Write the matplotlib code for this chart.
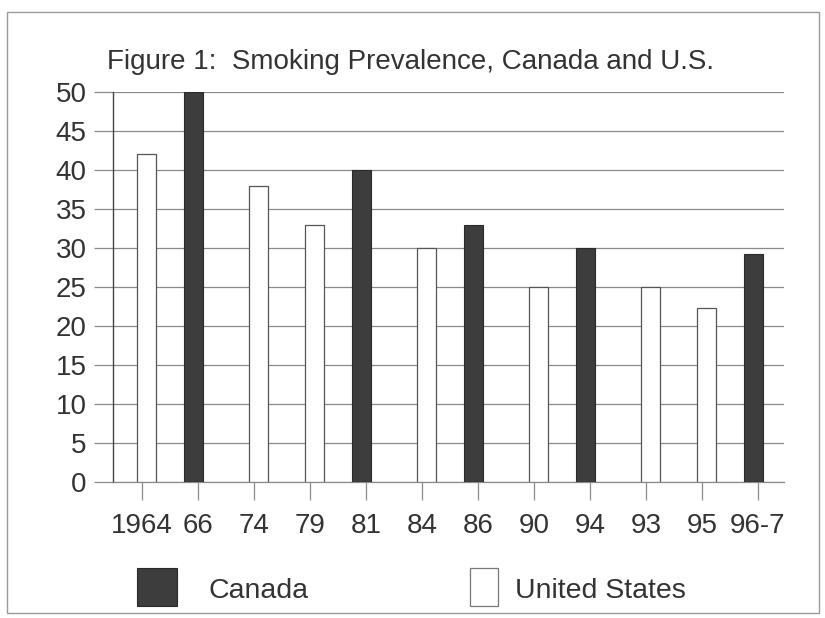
import matplotlib
matplotlib.use("Agg")
import matplotlib.pyplot as plt
from matplotlib.patches import Rectangle
import numpy as np

plt.rcParams['font.family'] = ['Liberation Sans', 'DejaVu Sans']

# Survey years (category labels) and prevalence (%) by country
years = ["1964", "66", "74", "79", "81", "84", "86", "90", "94", "93", "95", "96-7"]
canada = [None, 50, None, None, 40, None, 33, None, 30, None, None, 29.3]
united_states = [42, None, 38, 33, None, 30, None, 25, None, 25, 22.3, None]
y_ticks = [0, 5, 10, 15, 20, 25, 30, 35, 40, 45, 50]

TEXT = "#333333"
DARK = "#3d3d3d"
GRID = "#8a8a8a"

fig = plt.figure(figsize=(8.25, 6.18), dpi=100)
fig.patch.set_facecolor("white")

# outer frame around the whole figure
fig.patches.append(Rectangle((0.009, 0.008), 0.984, 0.973, transform=fig.transFigure,
                             fill=False, edgecolor="#9a9a9a", linewidth=1.0))

ax = fig.add_axes([0.137, 0.220, 0.813, 0.631])
x = np.arange(len(years))
width = 0.34
shift = 0.075

for i, v in enumerate(canada):
    if v is not None:
        ax.bar(x[i] - shift, v, width=width, color=DARK, edgecolor="#2a2a2a",
               linewidth=0.8, zorder=3)
for i, v in enumerate(united_states):
    if v is not None:
        ax.bar(x[i] + shift, v, width=width, color="white", edgecolor="#555555",
               linewidth=0.9, zorder=3)

ax.set_xlim(-0.52, 11.46)
ax.set_ylim(0, 50)
ax.set_yticks(y_ticks)
ax.set_yticklabels([str(t) for t in y_ticks], fontsize=20, color=TEXT)
ax.set_xticks(x)
ax.set_xticklabels(years, fontsize=20, color=TEXT)

ax.yaxis.grid(True, color=GRID, linewidth=0.9, zorder=0)
ax.set_axisbelow(True)
ax.tick_params(axis="y", length=14, width=0.9, color=GRID, pad=5)
ax.tick_params(axis="x", length=13, width=0.9, color=GRID, pad=9)

for s in ["top", "right"]:
    ax.spines[s].set_visible(False)
ax.spines["left"].set_color("#444444")
ax.spines["left"].set_linewidth(1.0)
ax.spines["bottom"].set_color(GRID)
ax.spines["bottom"].set_linewidth(0.9)

fig.text(0.130, 0.900, "Figure 1:  Smoking Prevalence, Canada and U.S.",
         fontsize=20, color=TEXT, ha="left", va="center")

# legend drawn in figure coordinates
fig.patches.append(Rectangle((137 / 825, 1 - 606 / 618), 40 / 825, 38 / 618,
                             transform=fig.transFigure, facecolor=DARK,
                             edgecolor="#2a2a2a", linewidth=0.8))
fig.text(208 / 825, 1 - 591 / 618, "Canada", fontsize=20.5, color=TEXT,
         ha="left", va="center")
fig.patches.append(Rectangle((470 / 825, 1 - 606 / 618), 28 / 825, 38 / 618,
                             transform=fig.transFigure, facecolor="white",
                             edgecolor="#777777", linewidth=0.9))
fig.text(515 / 825, 1 - 591 / 618, "United States", fontsize=20.5, color=TEXT,
         ha="left", va="center")

fig.savefig("out.png", dpi=100)
